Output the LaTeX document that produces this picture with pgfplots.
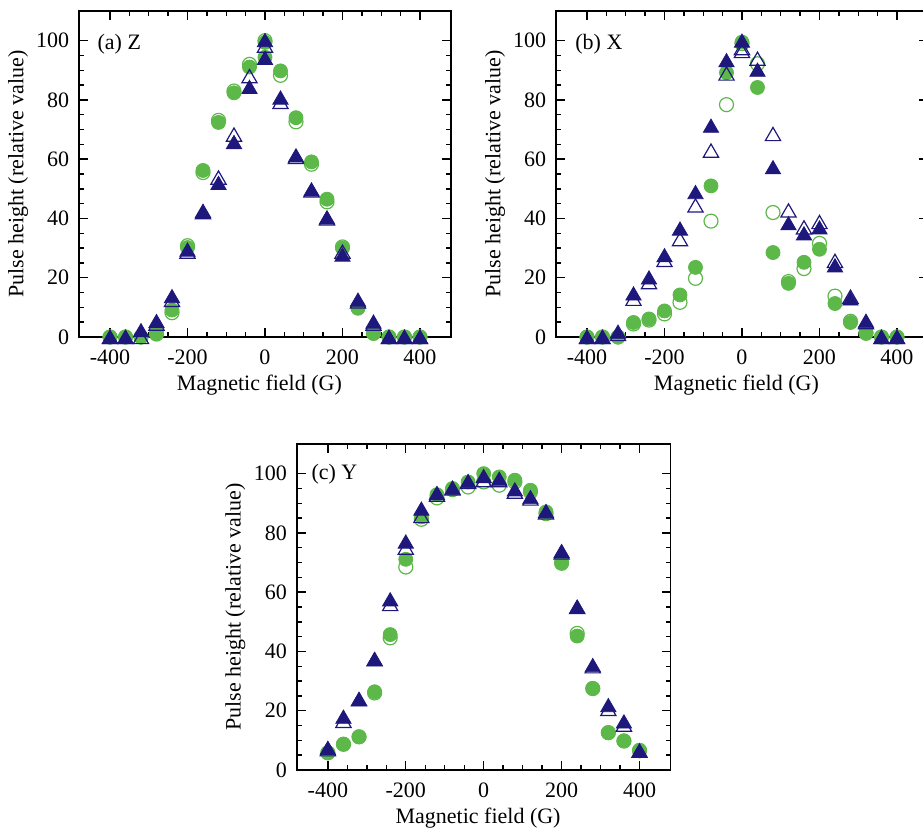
\documentclass[border=0pt]{standalone}
\usepackage{fontspec}
\setmainfont{Liberation Serif}
\usepackage{pgfplots}
\pgfplotsset{compat=1.18}
\definecolor{mygreen}{RGB}{92,184,72}
\definecolor{mynavy}{RGB}{30,24,125}

\pgfplotsset{
  panel/.style={
    scale only axis, width=186pt, height=163pt,
    anchor=south west, clip=false,
    xmin=-480, xmax=480, ymin=0, ymax=110,
    xtick={-400,-200,0,200,400}, xticklabels={-400,-200,0,200,400},
    ytick={0,20,40,60,80,100}, yticklabels={0,20,40,60,80,100},
    minor x tick num=3, minor y tick num=3,
    major tick length=4.5pt, minor tick length=2.5pt,
    axis line style={line width=0.8pt},
    every tick/.style={black, line width=0.7pt},
    font=\fontsize{11}{13}\selectfont,
    xticklabel style={yshift=-3pt},
    yticklabel style={xshift=-1.4pt},
    xlabel={Magnetic field (G)},
    ylabel={Pulse height (relative value)},
    xlabel style={at={(axis description cs:0.485,-0.147)}, anchor=center},
    ylabel style={at={(axis description cs:-0.164,0.5)}, anchor=center, rotate=0},
  },
  oc/.style={only marks, mark=o, mark size=3.5pt, color=mygreen, line width=0.6pt},
  fc/.style={only marks, mark=*, mark size=3.5pt, color=mygreen, mark options={fill=mygreen, draw=mygreen}},
  ot/.style={only marks, mark=triangle, mark size=4.4pt, color=mynavy, line width=0.6pt, mark options={yshift=-1.1pt}},
  ft/.style={only marks, mark=triangle*, mark size=4.4pt, color=mynavy, mark options={fill=mynavy, draw=mynavy, yshift=-1.1pt}},
}

\begin{document}
\begin{tikzpicture}
\useasboundingbox (0,0) rectangle (461.5pt,-416pt);

% (a) Z
\begin{axis}[panel, at={(39.5pt,-168.5pt)}]
\addplot[oc] coordinates {(-400,0)(-360,0)(-320,0)(-280,1)(-240,8.2)(-200,30.8)(-160,55.5)(-120,73.1)(-80,83)(-40,92)(0,100)(40,88.3)(80,72.6)(120,58.3)(160,45.6)(200,30.4)(240,10)(280,1.3)(320,0)(360,0)(400,0)};
\addplot[fc] coordinates {(-400,0)(-360,0)(-320,0)(-280,1.2)(-240,9.1)(-200,30.2)(-160,56.2)(-120,72.4)(-80,82.4)(-40,91.1)(0,99.4)(0,94.4)(40,89.8)(80,74)(120,59.1)(160,46.5)(200,30)(240,9.7)(280,1.2)(320,0)(360,0)(400,0)};
\addplot[ot] coordinates {(-400,0)(-360,0)(-320,0)(-280,4.5)(-240,12.5)(-200,28.8)(-160,42.1)(-120,53.8)(-80,68.3)(-40,88)(0,98.3)(40,79.3)(80,60.8)(120,49.5)(160,40)(200,28.8)(240,12)(280,4.5)(320,0)(360,0)(400,0)};
\addplot[ft] coordinates {(-400,0)(-360,0)(-320,2.3)(-280,5.4)(-240,13.8)(-200,29.5)(-160,42.6)(-120,52)(-80,65.8)(-40,84.4)(0,100.2)(0,94.2)(40,80.8)(80,61.3)(120,49.8)(160,40.4)(200,27.8)(240,12.6)(280,5.2)(320,0)(360,0)(400,0)};
\node[anchor=base west, inner sep=0pt] at (axis cs:-433,97) {(a) Z};
\end{axis}

% (b) X
\begin{axis}[panel, at={(278pt,-168.5pt)}]
\addplot[oc] coordinates {(-400,0)(-360,0)(-320,0)(-280,4.4)(-240,5.7)(-200,7.8)(-160,11.7)(-120,19.8)(-80,39.1)(-40,78.4)(0,99)(40,92.2)(80,42)(120,18.7)(160,23.1)(200,31.6)(240,13.8)(280,5.3)(320,1.5)(360,0)(400,0)};
\addplot[fc] coordinates {(-400,0)(-360,0)(-320,0)(-280,4.9)(-240,6.1)(-200,8.8)(-160,14.2)(-120,23.5)(-80,51)(-40,89.2)(0,99.5)(40,84.2)(80,28.5)(120,18.1)(160,25.2)(200,29.6)(240,11.3)(280,4.9)(320,1.2)(360,0)(400,0)};
\addplot[ot] coordinates {(-400,0)(-360,0)(-320,1)(-280,12.9)(-240,18.5)(-200,26)(-160,33)(-120,44.4)(-80,62.9)(-40,88.9)(0,97.5)(0,96.5)(40,93.9)(80,68.5)(120,42.7)(160,37)(200,38.8)(240,25.7)(280,13.6)(320,5)(360,0)(400,0)};
\addplot[ft] coordinates {(-400,0)(-360,0)(-320,1.8)(-280,14.7)(-240,20.1)(-200,27.6)(-160,36.6)(-120,48.9)(-80,71.3)(-40,93.4)(0,100)(40,90.2)(80,57.3)(120,38.4)(160,35)(200,37)(240,24.2)(280,13)(320,5.5)(360,0)(400,0)};
\node[anchor=base west, inner sep=0pt] at (axis cs:-431,97) {(b) X};
\end{axis}

% (c) Y
\begin{axis}[panel, width=187pt, at={(148.35pt,-385pt)}]
\addplot[oc] coordinates {(-400,5.8)(-360,8.7)(-320,11.2)(-280,26)(-240,44.6)(-200,68.5)(-160,84.6)(-120,91.8)(-80,94.6)(-40,95.5)(0,97.2)(40,96.1)(80,97.2)(120,93.8)(160,86.5)(200,70)(240,46.1)(280,27.5)(320,12.6)(360,9.8)(400,6.5)};
\addplot[fc] coordinates {(-400,5.8)(-360,8.7)(-320,11.2)(-280,26.4)(-240,45.7)(-200,71.1)(-160,85.4)(-120,92.9)(-80,95)(-40,97.2)(0,100)(40,98.9)(80,97.8)(120,94.4)(160,87.1)(200,69.7)(240,45.2)(280,27.5)(320,12.6)(360,9.8)(400,6.7)};
\addplot[ot] coordinates {(-400,7)(-360,16.6)(-320,23.9)(-280,37.4)(-240,56)(-200,75)(-160,85.7)(-120,92.9)(-80,95)(-40,97.2)(0,97.8)(40,97.8)(80,93.9)(120,91.6)(160,86.9)(200,73.4)(240,55)(280,35)(320,20.6)(360,15.3)(400,6.5)};
\addplot[ft] coordinates {(-400,7.5)(-360,18)(-320,23.9)(-280,37.4)(-240,57.6)(-200,77.1)(-160,88.2)(-120,93.5)(-80,95.3)(-40,97.5)(0,99.2)(40,98.3)(80,94.7)(120,92.1)(160,87.4)(200,73.9)(240,55.1)(280,35.4)(320,21.9)(360,16.4)(400,6.5)};
\node[anchor=base west, inner sep=0pt] at (axis cs:-443,98) {(c) Y};
\end{axis}
\end{tikzpicture}
\end{document}
